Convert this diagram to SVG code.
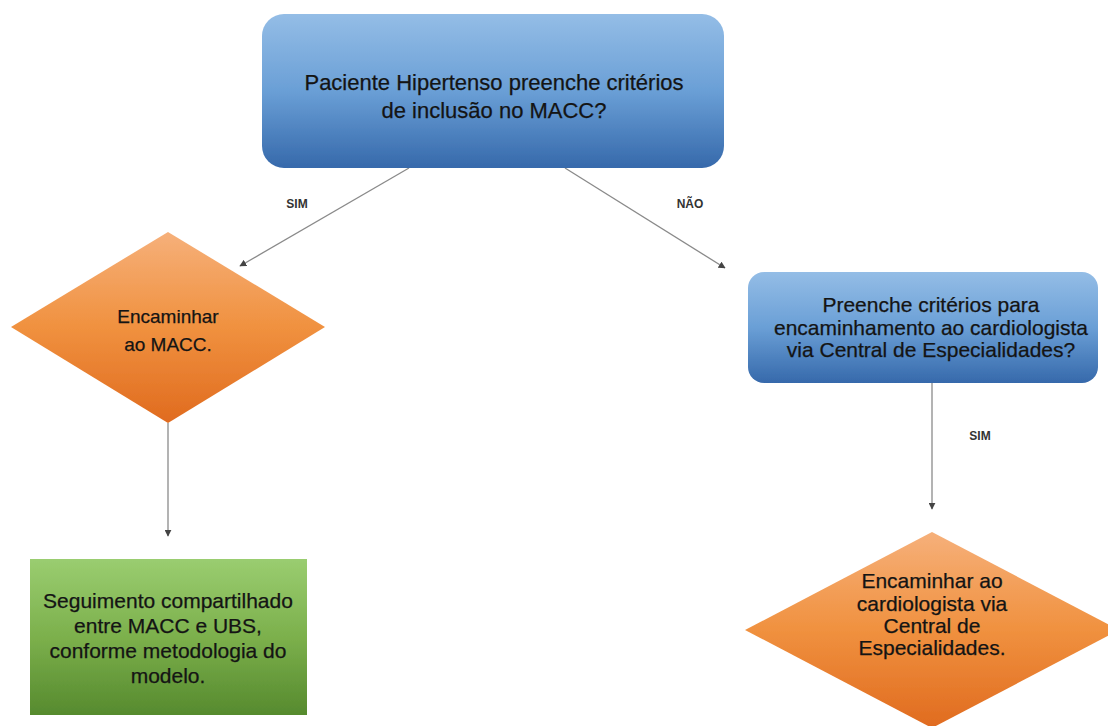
<svg xmlns="http://www.w3.org/2000/svg" width="1108" height="726" viewBox="0 0 1108 726">
  <style>
    .lbl { font-family: "Liberation Sans", Arial, sans-serif; fill: #141414; stroke: #141414; stroke-width: 0.25; text-anchor: middle; }
    .xl { font-size: 22px; }
    .big { font-size: 19px; }
    .mid { font-size: 21px; }
    .tag { font-family: "Liberation Sans", Arial, sans-serif; font-size: 12px; font-weight: bold; fill: #333; text-anchor: middle; }
    .edge { stroke: #8a8a8a; stroke-width: 1.3; fill: none; marker-end: url(#tri); }
  </style>
  <defs>
    <linearGradient id="blue" x1="0" y1="0" x2="0" y2="1">
      <stop offset="0" stop-color="#94bde6"/>
      <stop offset="0.5" stop-color="#6a9fd6"/>
      <stop offset="1" stop-color="#3669ab"/>
    </linearGradient>
    <linearGradient id="orange" x1="0" y1="0" x2="0" y2="1">
      <stop offset="0" stop-color="#f6b07a"/>
      <stop offset="0.5" stop-color="#f0913f"/>
      <stop offset="1" stop-color="#e06b1f"/>
    </linearGradient>
    <linearGradient id="green" x1="0" y1="0" x2="0" y2="1">
      <stop offset="0" stop-color="#9acd70"/>
      <stop offset="0.5" stop-color="#7cb04c"/>
      <stop offset="1" stop-color="#568a2e"/>
    </linearGradient>
    <filter id="soft" x="-5%" y="-5%" width="110%" height="110%">
      <feGaussianBlur stdDeviation="0.6"/>
    </filter>
    <marker id="tri" viewBox="0 0 10 10" refX="9" refY="5" markerWidth="7" markerHeight="7" orient="auto" markerUnits="userSpaceOnUse">
      <path d="M0,0 L10,5 L0,10 z" fill="#444"/>
    </marker>
  </defs>

  <rect width="1108" height="726" fill="#ffffff"/>

  <!-- connectors -->
  <g id="connectors">
    <line class="edge" x1="409" y1="168" x2="240" y2="266"/>
    <line class="edge" x1="565" y1="168" x2="725" y2="268"/>
    <line class="edge" x1="168" y1="423" x2="168" y2="536"/>
    <line class="edge" x1="932" y1="383" x2="932" y2="509"/>
    <text class="tag" x="297" y="208">SIM</text>
    <text class="tag" x="690" y="208">NÃO</text>
    <text class="tag" x="980" y="440">SIM</text>
  </g>

  <!-- initial question -->
  <g id="q1">
    <rect x="262" y="14" width="462" height="154" rx="22" fill="url(#blue)" filter="url(#soft)"/>
    <text class="lbl xl" x="494" y="90">Paciente Hipertenso preenche critérios</text>
    <text class="lbl xl" x="494" y="118">de inclusão no MACC?</text>
  </g>

  <!-- refer to MACC -->
  <g id="macc">
    <polygon points="168,232 325,327 168,423 11,327" fill="url(#orange)" filter="url(#soft)"/>
    <text class="lbl big" x="168" y="323">Encaminhar</text>
    <text class="lbl big" x="168" y="351">ao MACC.</text>
  </g>

  <!-- shared follow-up -->
  <g id="seguimento">
    <rect x="30" y="559" width="277" height="156" fill="url(#green)" filter="url(#soft)"/>
    <text class="lbl mid" x="168" y="608">Seguimento compartilhado</text>
    <text class="lbl mid" x="168" y="633">entre MACC e UBS,</text>
    <text class="lbl mid" x="168" y="658">conforme metodologia do</text>
    <text class="lbl mid" x="168" y="683">modelo.</text>
  </g>

  <!-- second question -->
  <g id="q2">
    <rect x="748" y="272" width="350" height="111" rx="16" fill="url(#blue)" filter="url(#soft)"/>
    <text class="lbl mid" x="931" y="312">Preenche critérios para</text>
    <text class="lbl mid" x="931" y="335">encaminhamento ao cardiologista</text>
    <text class="lbl mid" x="931" y="357">via Central de Especialidades?</text>
  </g>

  <!-- refer to cardiologist -->
  <g id="cardio">
    <polygon points="932,532 1119,630 932,728 745,630" fill="url(#orange)" filter="url(#soft)"/>
    <text class="lbl mid" x="932" y="588">Encaminhar ao</text>
    <text class="lbl mid" x="932" y="611">cardiologista via</text>
    <text class="lbl mid" x="932" y="633">Central de</text>
    <text class="lbl mid" x="932" y="655">Especialidades.</text>
  </g>
</svg>
